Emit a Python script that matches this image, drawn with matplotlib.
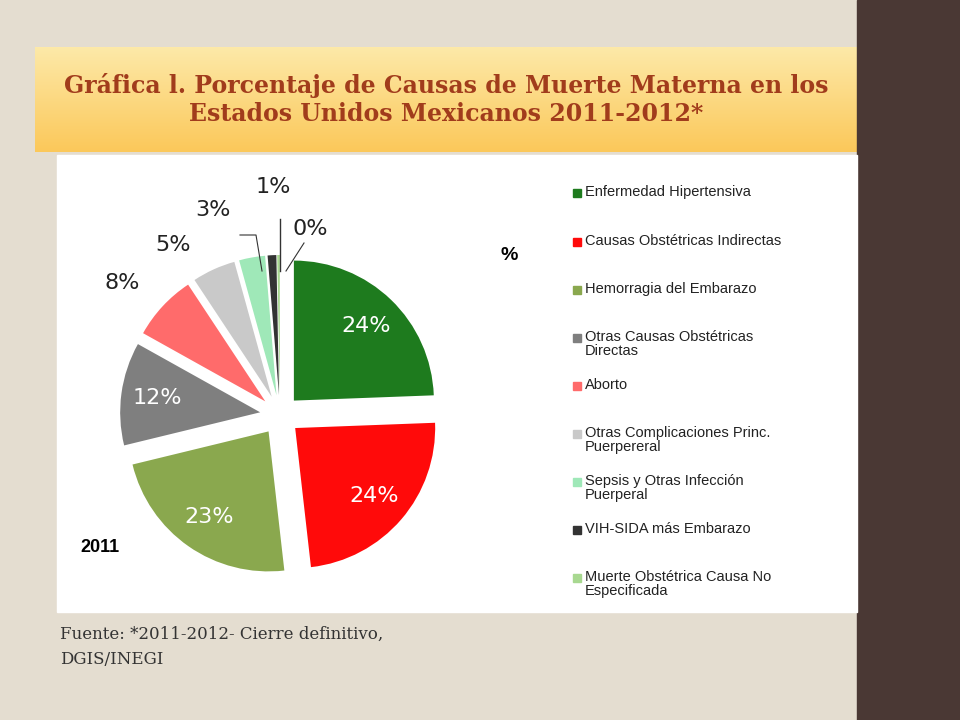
import matplotlib.pyplot as plt
import matplotlib.patches as mpatches
from matplotlib.colors import LinearSegmentedColormap
import numpy as np

causes = ["Enfermedad Hipertensiva", "Causas Obstétricas Indirectas", "Hemorragia del Embarazo",
          "Otras Causas Obstétricas\nDirectas", "Aborto", "Otras Complicaciones Princ.\nPuerpereral",
          "Sepsis y Otras Infección\nPuerperal", "VIH-SIDA más Embarazo",
          "Muerte Obstétrica Causa No\nEspecificada"]
values = [24.4, 23.8, 23.0, 11.9, 7.6, 5.0, 3.0, 1.0, 0.3]
shown = ["24%", "24%", "23%", "12%", "8%", "5%", "3%", "1%", "0%"]
colors = ["#1e7b1e", "#ff0a0a", "#8aa84e", "#7f7f7f", "#ff6b6b", "#c9c9c9",
          "#9fe8b8", "#333333", "#a8d890"]

fig = plt.figure(figsize=(9.6, 7.2), dpi=100)
fig.patch.set_facecolor("#e4ddd0")
fig.patches.append(mpatches.Rectangle((857/960, 0), 103/960, 1, transform=fig.transFigure,
                                      color="#4a3834", zorder=0))
# title box with gradient
tax = fig.add_axes([35/960, 1-152/720, 823/960, 105/720])
grad = np.linspace(0, 1, 100).reshape(-1, 1)
cm = LinearSegmentedColormap.from_list("t", ["#fde9a8", "#fbc85a"])
tax.imshow(grad, aspect="auto", cmap=cm, extent=[0, 1, 0, 1])
tax.set_xlim(0, 1); tax.set_ylim(0, 1); tax.axis("off")
tax.text(0.5, 0.5, "Gráfica l. Porcentaje de Causas de Muerte Materna en los\nEstados Unidos Mexicanos 2011-2012*",
         ha="center", va="center", fontsize=17, fontweight="bold", family="DejaVu Serif",
         color="#a13c1c", linespacing=1.25)

fig.patches.append(mpatches.Rectangle((57/960, 1-612/720), 800/960, 457/720,
                                      transform=fig.transFigure, color="white", zorder=1))

ax = fig.add_axes([80/960, 1-615/720, 400/960, 400/720])
ax.set_zorder(2)
wedges, _ = ax.pie(values, colors=colors, startangle=90, counterclock=False,
                   explode=[0.1] * len(values), radius=0.7)
ax.set_xlim(-1, 1); ax.set_ylim(-1, 1)
for i, w in enumerate(wedges[:4]):
    th = np.deg2rad((w.theta1 + w.theta2) / 2)
    ax.text(0.62 * np.cos(th), 0.62 * np.sin(th), shown[i], ha="center", va="center",
            fontsize=16, color="white")
# outer labels, pixel positions from the picture
outer_xy = [(122, 283), (173, 245), (213, 210), (273, 187), (310, 229)]
for s, (px, py) in zip(shown[4:], outer_xy):
    fig.text(px/960, 1-py/720, s, ha="center", va="center", fontsize=16, color="#222222", zorder=3)
ax.plot([0.0, 0.0], [0.72, 0.98], color="#333333", lw=1)
ax.plot([-0.2, -0.12, -0.09], [0.9, 0.9, 0.72], color="#333333", lw=0.8)
ax.plot([0.03, 0.12], [0.72, 0.86], color="#333333", lw=0.8)

fig.text(80/960, 1-548/720, "2011", fontsize=13, fontweight="bold", family="Liberation Sans",
         va="center", zorder=3)
fig.text(500/960, 1-255/720, "%", fontsize=14, fontweight="bold", family="Liberation Sans",
         va="center", zorder=3)

ys = [193, 242, 290, 338, 386, 434, 482, 530, 578]
for c, col, y in zip(causes, colors, ys):
    fig.patches.append(mpatches.Rectangle((573/960, 1-(y+4)/720), 8/960, 8/720,
                                          transform=fig.transFigure, color=col, zorder=3))
    fig.text(585/960, 1-(y-8)/720, c, fontsize=10.5, family="Liberation Sans", va="top",
             color="#222222", zorder=3, linespacing=1.0)

fig.text(60/960, 1-647/720, "Fuente: *2011-2012- Cierre definitivo,\nDGIS/INEGI",
         fontsize=12, family="DejaVu Serif", color="#333333", va="center", linespacing=1.6)

fig.savefig("out.png", dpi=100, facecolor=fig.get_facecolor())
